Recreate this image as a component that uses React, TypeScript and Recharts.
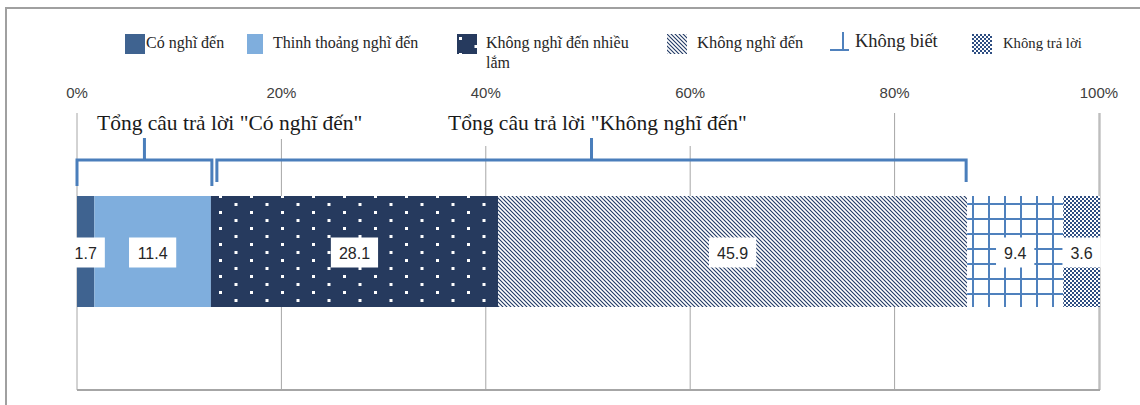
import React from "react";
import { BarChart, Bar, XAxis, YAxis, CartesianGrid, LabelList, ReferenceArea } from "recharts";

// answer options, in stacking order
const categories = [
  "Có nghĩ đến",
  "Thinh thoảng nghĩ đến",
  "Không nghĩ đến nhiều lắm",
  "Không nghĩ đến",
  "Không biết",
  "Không trả lời",
];
const values = [1.7, 11.4, 28.1, 45.9, 9.4, 3.6];
const ticks = [0, 20, 40, 60, 80, 100];

// bracket groups: label + which answers (index range, end exclusive) they total
const groupLabels = ['Tổng câu trả lời "Có nghĩ đến"', 'Tổng câu trả lời "Không nghĩ đến"'];
const groupRanges = [
  [0, 2],
  [2, 4],
];

const fills = ["#3F6390", "#7FAEDD", "url(#p-dots)", "url(#p-hatch)", "url(#p-grid)", "url(#p-check)"];
const BLUE = "#4A7EBB";
const GRID = "#A6A6A6";
const SANS = "'Liberation Sans', Arial, sans-serif";
const SERIF = "'Liberation Serif', 'Times New Roman', serif";

const row: Record<string, string | number> = { name: "all" };
categories.forEach((_, i) => (row[`s${i}`] = values[i]));
const data = [row];

const sumTo = (n: number) => values.slice(0, n).reduce((a, b) => a + b, 0);

// per-bracket look (pixel tweaks)
const bracketStyle = [
  { inL: 0, inR: 1, leg: 26, anchor: "start", dx: 20, boxW: 272, boxH: 30 },
  { inL: 6, inR: -1, leg: 22, anchor: "middle", dx: 6, boxW: 318, boxH: 37 },
];

// legend look: swatch x, text x, font size
const legendSwatchX = [125, 247, 457, 667, 830, 972];
const legendTextX = [146, 273, 486, 697, 855, 1003];
const legendFont = [16, 16, 16, 16.5, 18.5, 14.7];

function Patterns() {
  return (
    <svg width={0} height={0} style={{ position: "absolute" }}>
      <defs>
        <pattern id="p-dots" patternUnits="userSpaceOnUse" width={31} height={16}>
          <rect width={31} height={16} fill="#263A5E" />
          <rect x={2} y={3} width={3} height={3} fill="#fff" />
          <rect x={17.5} y={11} width={3} height={3} fill="#fff" />
        </pattern>
        <pattern id="p-hatch" patternUnits="userSpaceOnUse" width={4} height={4}>
          <rect width={4} height={4} fill="#fff" />
          <path d="M0,0 L4,4 M-1,3 L1,5 M3,-1 L5,1" stroke="#1F3864" strokeWidth={1.1} />
        </pattern>
        <pattern id="p-grid" patternUnits="userSpaceOnUse" x={12} y={8} width={16} height={15}>
          <rect width={16} height={15} fill="#fff" />
          <rect x={0} y={0} width={2} height={15} fill="#4F81BD" />
          <rect x={0} y={0} width={16} height={2} fill="#4F81BD" />
        </pattern>
        <pattern id="p-check" patternUnits="userSpaceOnUse" width={4} height={4}>
          <rect width={4} height={4} fill="#fff" />
          <rect x={0} y={0} width={2} height={2} fill="#2E4E82" />
          <rect x={2} y={2} width={2} height={2} fill="#2E4E82" />
        </pattern>
      </defs>
    </svg>
  );
}

function Swatch({ i }: { i: number }) {
  if (i === 4) {
    return (
      <svg width={19} height={20}>
        <line x1={0} y1={18} x2={19} y2={18} stroke="#4F81BD" strokeWidth={2} />
        <line x1={13} y1={0} x2={13} y2={19} stroke="#4F81BD" strokeWidth={2} />
      </svg>
    );
  }
  const w = i === 1 ? 16 : 20;
  return (
    <svg width={w} height={20}>
      <rect width={w} height={20} fill={fills[i]} />
    </svg>
  );
}

function Legend() {
  return (
    <div style={{ position: "absolute", left: 0, top: 0, fontFamily: SERIF, color: "#262626" }}>
      {categories.map((c, i) => (
        <React.Fragment key={c}>
          <div style={{ position: "absolute", left: legendSwatchX[i], top: i === 4 ? 32 : 34 }}>
            <Swatch i={i} />
          </div>
          <div
            style={{
              position: "absolute",
              left: legendTextX[i],
              top: i === 4 ? 31 : 33,
              fontSize: legendFont[i],
              lineHeight: "20px",
              width: i === 2 ? 150 : undefined,
              whiteSpace: i === 2 ? "normal" : "nowrap",
            }}
          >
            {c}
          </div>
        </React.Fragment>
      ))}
    </div>
  );
}

const BoxLabel = (props: any) => {
  const vb = props.viewBox ?? props;
  const { x, y, width, height } = vb;
  const cx = x + width / 2;
  const cy = y + height / 2;
  const text = String(props.value);
  const w = text.replace(".", "").length * 8.9 + 4.5 + 16;
  return (
    <g>
      <rect x={cx - w / 2} y={cy - 14} width={w} height={30} fill="#fff" />
      <text x={cx} y={cy + 7} textAnchor="middle" fontSize={16} fill="#262626" fontFamily={SANS}>
        {text}
      </text>
    </g>
  );
};

const makeBracket = (gi: number) => (p: any) => {
  const s = bracketStyle[gi];
  const x0 = p.x + s.inL;
  const x1 = p.x + p.width + s.inR;
  const top = p.y;
  const hy = top + 47;
  const mid = (x0 + x1) / 2;
  const tx = s.anchor === "start" ? x0 + s.dx : mid + s.dx;
  const bx = s.anchor === "start" ? tx - 3 : tx - s.boxW / 2;
  return (
    <g>
      <rect x={bx} y={top - 6} width={s.boxW} height={s.boxH + 2} fill="#fff" />
      <text x={tx} y={top + 17} textAnchor={s.anchor} fontFamily={SERIF} fontSize={21.5} fill="#1a1a1a">
        {groupLabels[gi]}
      </text>
      <path
        d={`M${x0},${hy + s.leg} L${x0},${hy} L${x1},${hy} L${x1},${hy + s.leg} M${mid},${hy} L${mid},${top + 25}`}
        fill="none"
        stroke={BLUE}
        strokeWidth={3}
      />
    </g>
  );
};

export default function App() {
  return (
    <div style={{ position: "absolute", left: 0, top: 0, width: 1140, height: 405, background: "#fff", overflow: "hidden" }}>
      <Patterns />
      <div
        style={{
          position: "absolute",
          left: 5,
          top: 7,
          width: 1200,
          height: 500,
          borderLeft: "2px solid #A0A0A0",
          borderTop: "2px solid #A0A0A0",
        }}
      />
      <Legend />
      <div style={{ position: "absolute", left: 0, top: 0 }}>
        <BarChart
          width={1140}
          height={405}
          data={data}
          layout="vertical"
          margin={{ top: 83, right: 40, bottom: 0, left: 77 }}
        >
          <CartesianGrid xAxisId="top" yAxisId="cat" horizontal={false} stroke={GRID} strokeWidth={1} />
          <XAxis
            xAxisId="top"
            type="number"
            orientation="top"
            domain={[0, 100]}
            ticks={ticks}
            height={30}
            axisLine={false}
            tickLine={false}
            tickSize={6}
            tickMargin={9}
            tickFormatter={(v: number) => `${v}%`}
            tick={{ fontSize: 15, fill: "#404040", fontFamily: SANS }}
          />
          <XAxis
            xAxisId="bottom"
            type="number"
            orientation="bottom"
            domain={[0, 100]}
            ticks={ticks}
            height={15}
            tick={false}
            tickSize={7}
            axisLine={{ stroke: GRID, strokeWidth: 2 }}
            tickLine={{ stroke: GRID, strokeWidth: 1 }}
          />
          <YAxis yAxisId="cat" type="category" dataKey="name" hide />
          {groupRanges.map((r, gi) => (
            <ReferenceArea
              key={gi}
              xAxisId="top"
              yAxisId="cat"
              x1={sumTo(r[0])}
              x2={sumTo(r[1])}
              ifOverflow="visible"
              shape={makeBracket(gi)}
            />
          ))}
          {categories.map((c, i) => (
            <Bar
              key={c}
              xAxisId="top"
              yAxisId="cat"
              dataKey={`s${i}`}
              name={c}
              stackId="a"
              fill={fills[i]}
              barSize={111}
              isAnimationActive={false}
            >
              <LabelList dataKey={`s${i}`} content={BoxLabel} />
            </Bar>
          ))}
        </BarChart>
      </div>
    </div>
  );
}
